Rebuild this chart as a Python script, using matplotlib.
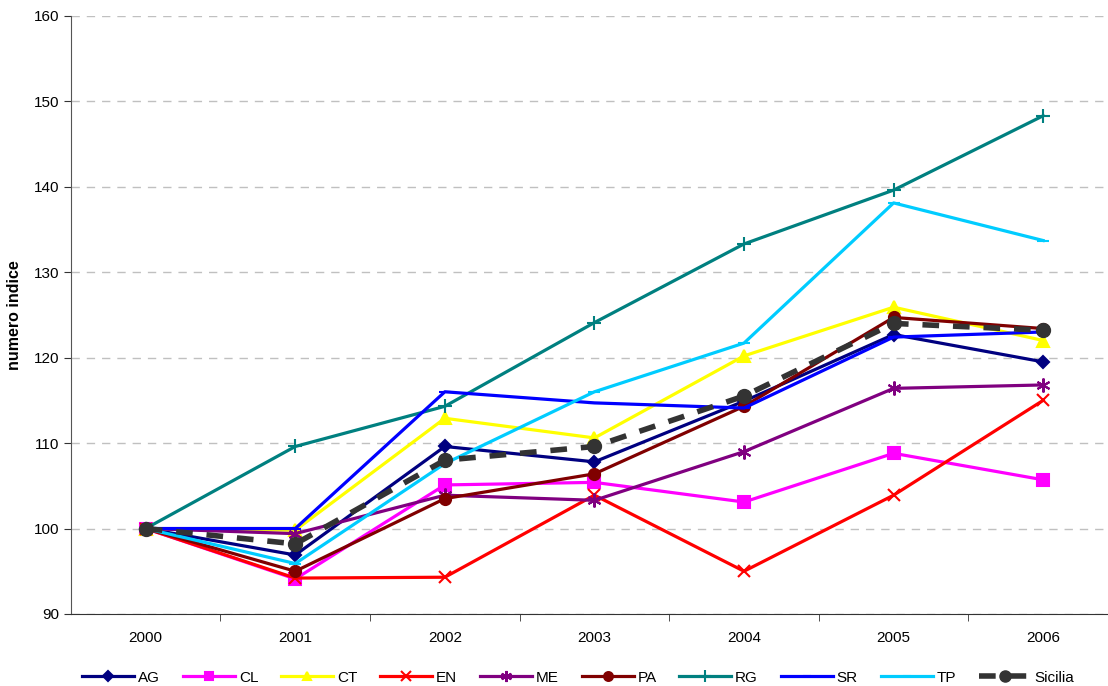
import numpy as np
import matplotlib
matplotlib.use("Agg")
import matplotlib.pyplot as plt

plt.rcParams['font.family'] = ['Liberation Sans', 'DejaVu Sans']

anni = ['2000', '2001', '2002', '2003', '2004', '2005', '2006']

# numero indice (2000 = 100)
AG = [100, 96.9, 109.6, 107.8, 114.9, 122.7, 119.5]
CL = [100, 94.1, 105.1, 105.4, 103.1, 108.8, 105.7]
CT = [100, 99.8, 112.9, 110.6, 120.2, 125.9, 122.0]
EN = [100, 94.2, 94.3, 103.9, 95.0, 103.9, 115.0]
ME = [100, 99.4, 103.9, 103.3, 109.0, 116.4, 116.8]
PA = [100, 95.0, 103.5, 106.4, 114.3, 124.7, 123.4]
RG = [100, 109.6, 114.3, 124.1, 133.3, 139.6, 148.3]
SR = [100, 100.0, 116.0, 114.7, 114.1, 122.4, 123.0]
TP = [100, 95.9, 107.6, 116.0, 121.7, 138.1, 133.7]
Sicilia = [100, 98.2, 108.0, 109.6, 115.5, 124.0, 123.2]

serie = [
    ('AG', AG, '#000080', 'D', 6),
    ('CL', CL, '#FF00FF', 's', 8),
    ('CT', CT, '#FFFF00', '^', 8),
    ('EN', EN, '#FF0000', 'x', 9),
    ('ME', ME, '#800080', (6, 2, 0), 10),
    ('PA', PA, '#800000', 'o', 8),
    ('RG', RG, '#008080', '+', 10),
    ('SR', SR, '#0000FF', '_', 8),
    ('TP', TP, '#00CCFF', '_', 8),
]

fig = plt.figure(figsize=(11.08, 6.86), dpi=100)
ax = fig.add_axes([0.064, 0.105, 0.945, 0.872])

x = np.arange(len(anni))
for nome, val, col, mk, ms in serie:
    ax.plot(x, val, color=col, lw=2.3, marker=mk, ms=ms, mew=1.5,
            mfc=col, mec=col, label=nome)
ax.plot(x, Sicilia, color='#333333', lw=4, ls=(0, (3, 2.5)), marker='o',
        ms=10, mfc='#333333', mec='#333333', label='Sicilia')

ax.set_xlim(-0.5, len(anni) - 0.5)
ax.set_ylim(90, 160)
ax.set_yticks(np.arange(90, 161, 10))
ax.set_xticks(x)
ax.set_xticklabels(anni)
ax.set_xticks(np.arange(0.5, len(anni) - 0.5, 1), minor=True)
ax.tick_params(axis='x', which='major', length=0, pad=12, labelsize=11)
ax.tick_params(axis='x', which='minor', length=5, direction='out', color='#333333')
ax.tick_params(axis='y', length=5, direction='out', labelsize=11, color='#333333')
ax.grid(axis='y', color='#C0C0C0', ls=(0, (6, 5)), lw=1)
ax.set_axisbelow(True)
for s in ['top', 'right']:
    ax.spines[s].set_visible(False)
ax.spines['left'].set_color('#555555')
ax.spines['bottom'].set_color('#333333')
ax.set_ylabel('numero indice', fontsize=11.5, fontweight='bold', labelpad=8)

fig.legend(loc='lower center', bbox_to_anchor=(0.522, -0.018), ncol=10,
           frameon=False, fontsize=11, handlelength=3.4, columnspacing=1.5,
           handletextpad=0.25, markerscale=0.8)

fig.savefig('out.png', dpi=100)
